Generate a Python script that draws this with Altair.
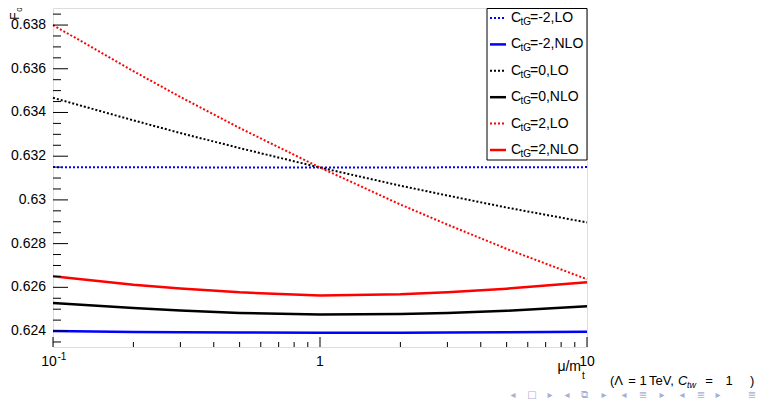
import altair as alt
import pandas as pd

FONT = "Liberation Sans"

# ---- data ----
mu = [0.1, 0.2, 0.3, 0.5, 1, 2, 3, 5, 10]
lo_m2 = [0.63150, 0.63149, 0.63149, 0.63148, 0.63148, 0.63148, 0.63149, 0.63149, 0.63150]
nlo_m2 = [0.62400, 0.62396, 0.62394, 0.62393, 0.62392, 0.62392, 0.62393, 0.62394, 0.62397]
lo_0 = [0.63467, 0.63364, 0.63306, 0.63237, 0.63148, 0.63065, 0.63020, 0.62965, 0.62897]
nlo_0 = [0.62528, 0.62505, 0.62494, 0.62483, 0.62476, 0.62478, 0.62483, 0.62493, 0.62514]
lo_2 = [0.63800, 0.63589, 0.63471, 0.63329, 0.63148, 0.62979, 0.62887, 0.62776, 0.62637]
nlo_2 = [0.62651, 0.62612, 0.62595, 0.62577, 0.62563, 0.62568, 0.62578, 0.62594, 0.62623]

series_ctg = ["-2", "-2", "0", "0", "2", "2"]
series_order = ["LO", "NLO", "LO", "NLO", "LO", "NLO"]
series_vals = [lo_m2, nlo_m2, lo_0, nlo_0, lo_2, nlo_2]
legend_rest = ["=-2,LO", "=-2,NLO", "=0,LO", "=0,NLO", "=2,LO", "=2,NLO"]

y_major = [0.624, 0.626, 0.628, 0.630, 0.632, 0.634, 0.636, 0.638]
y_label_text = ["0.624", "0.626", "0.628", "0.63", "0.632", "0.634", "0.636", "0.638"]
y_minor = [0.6235, 0.6245, 0.6250, 0.6255, 0.6265, 0.6270, 0.6275, 0.6285, 0.6290,
           0.6295, 0.6305, 0.6310, 0.6315, 0.6325, 0.6330, 0.6335, 0.6345, 0.6350,
           0.6355, 0.6365, 0.6370, 0.6375, 0.6385]
x_major = [0.1, 1, 10]
x_minor = [0.2, 0.3, 0.4, 0.5, 0.6, 0.7, 0.8, 0.9, 2, 3, 4, 5, 6, 7, 8, 9]
x_label_vals = [1, 10]
x_label_text = ["1", "10"]

rows = []
for c, o, vals in zip(series_ctg, series_order, series_vals):
    for m, v in zip(mu, vals):
        rows.append({"mu": m, "F0": v, "ctg": c, "order": o})
df = pd.DataFrame(rows)

W, H = 534, 339
xs = alt.Scale(type="log", domain=[0.1, 10], nice=False)
ys = alt.Scale(domain=[0.62327, 0.63878], zero=False, nice=False)
cs = alt.Scale(domain=["-2", "0", "2"], range=["#0000ff", "#000000", "#ff0000"])

x_enc = alt.X("mu:Q", scale=xs, axis=None)
y_enc = alt.Y("F0:Q", scale=ys, axis=None)
col = alt.Color("ctg:N", scale=cs, legend=None)

base = alt.Chart(df)
lo_layer = base.transform_filter(alt.datum.order == "LO").mark_line(
    strokeDash=[2, 2], strokeWidth=2).encode(x=x_enc, y=y_enc, color=col, detail="ctg:N")
nlo_layer = base.transform_filter(alt.datum.order == "NLO").mark_line(
    strokeWidth=2.5).encode(x=x_enc, y=y_enc, color=col, detail="ctg:N")

layers = [lo_layer, nlo_layer]


# axis ticks (inside the frame, ROOT style)
def yticks(vals, length):
    return alt.Chart(pd.DataFrame({"v": vals})).mark_rule(color="#000", strokeWidth=1).encode(
        y=alt.Y("v:Q", scale=ys, axis=None), x=alt.value(0), x2=alt.value(length))


def xticks(vals, length):
    return alt.Chart(pd.DataFrame({"v": vals})).mark_rule(color="#000", strokeWidth=1).encode(
        x=alt.X("v:Q", scale=xs, axis=None), y=alt.value(H), y2=alt.value(H - length))


layers += [yticks(y_major, 15), yticks(y_minor, 8), xticks(x_major, 10), xticks(x_minor, 5)]

# y tick labels
layers.append(alt.Chart(pd.DataFrame({"v": y_major, "t": y_label_text})).mark_text(
    fontSize=14, font=FONT, color="#000", align="right", baseline="middle").encode(
    y=alt.Y("v:Q", scale=ys, axis=None), x=alt.value(-7), text="t:N"))

# x tick labels
layers.append(alt.Chart(pd.DataFrame({"v": x_label_vals, "t": x_label_text})).mark_text(
    fontSize=14, font=FONT, color="#000", align="center", baseline="middle").encode(
    x=alt.X("v:Q", scale=xs, axis=None), y=alt.value(354), text="t:N"))
layers.append(alt.Chart(pd.DataFrame({"v": [0.1], "t": ["10"]})).mark_text(
    fontSize=14, font=FONT, color="#000", align="center", baseline="middle", dx=-4).encode(
    x=alt.X("v:Q", scale=xs, axis=None), y=alt.value(354), text="t:N"))


def txt(text, x, y, size=14, align="left", italic=False, color="#000", angle=0, font=FONT):
    return alt.Chart(pd.DataFrame({"t": [text]})).mark_text(
        text=text, fontSize=size, align=align, baseline="middle", font=font,
        fontStyle="italic" if italic else "normal", color=color, angle=angle).encode(x=x, y=y)


# superscript of 10^-1
layers.append(txt("-1", alt.value(4.5), alt.value(349), size=10))

# axis titles
layers.append(txt("F", alt.value(-38), alt.value(8), size=12, align="center", angle=270))
layers.append(txt("0", alt.value(-33), alt.value(1.5), size=8, align="center", angle=270))
layers.append(txt("\u03bc/m", alt.value(528), alt.value(359), size=14, align="right"))
layers.append(txt("t", alt.value(529), alt.value(368), size=10))

# legend box
layers.append(alt.Chart(pd.DataFrame({"a": [0]})).mark_rect(
    fill="white", stroke="#000", strokeWidth=1).encode(
    x=alt.value(434), x2=alt.value(534), y=alt.value(0.5), y2=alt.value(152)))

colmap = {"-2": "#0000ff", "0": "#000000", "2": "#ff0000"}
for i, (c, o, rest) in enumerate(zip(series_ctg, series_order, legend_rest)):
    yy = 10 + i * 26.4
    if o == "LO":
        mk = dict(strokeDash=[2, 2], strokeWidth=2)
    else:
        mk = dict(strokeWidth=2.5)
    layers.append(alt.Chart(pd.DataFrame({"a": [0]})).mark_rule(color=colmap[c], **mk).encode(
        x=alt.value(437), x2=alt.value(453), y=alt.value(yy)))
    layers.append(txt("C", alt.value(458), alt.value(yy), size=14))
    layers.append(txt("tG", alt.value(467.5), alt.value(yy + 4), size=10))
    layers.append(txt(rest, alt.value(477), alt.value(yy), size=14))

# annotation "(Λ = 1 TeV, C_tw = 1)"
ay = 373
layers.append(txt("(\u039b", alt.value(557), alt.value(ay), size=13))
layers.append(txt("=", alt.value(579), alt.value(ay), size=13, align="center"))
layers.append(txt("1", alt.value(590), alt.value(ay), size=13, align="center"))
layers.append(txt("TeV,", alt.value(596), alt.value(ay), size=13))
layers.append(txt("C", alt.value(625), alt.value(ay), size=13, italic=True))
layers.append(txt("tw", alt.value(634), alt.value(ay + 4), size=9, italic=True))
layers.append(txt("=", alt.value(656), alt.value(ay), size=13, align="center"))
layers.append(txt("1", alt.value(676), alt.value(ay), size=13, align="center"))
layers.append(txt(")", alt.value(697), alt.value(ay), size=13))

# beamer navigation symbols
nav_syms = ["\u25c2", "\u25a1", "\u25b8", "\u25c2", "\u29c9", "\u25b8", "\u25c2", "\u2263", "\u25b8",
            "\u25c2", "\u2263", "\u25b8", "\u2263"]
nav_x = [460, 479, 497, 514, 531, 551, 571, 590, 609, 629, 648, 665, 699]
for s, px in zip(nav_syms, nav_x):
    layers.append(txt(s, alt.value(px), alt.value(386.5), size=10, color="#a9aed6",
                      font="DejaVu Sans", align="center"))

chart = alt.layer(*layers).properties(
    width=W, height=H, autosize="none",
    padding={"left": 45, "top": 0, "right": 169, "bottom": 52},
).configure_view(stroke="#000", strokeWidth=1).configure(background="white")

chart.save("out.html", embed_options={"renderer": "svg", "actions": False})
